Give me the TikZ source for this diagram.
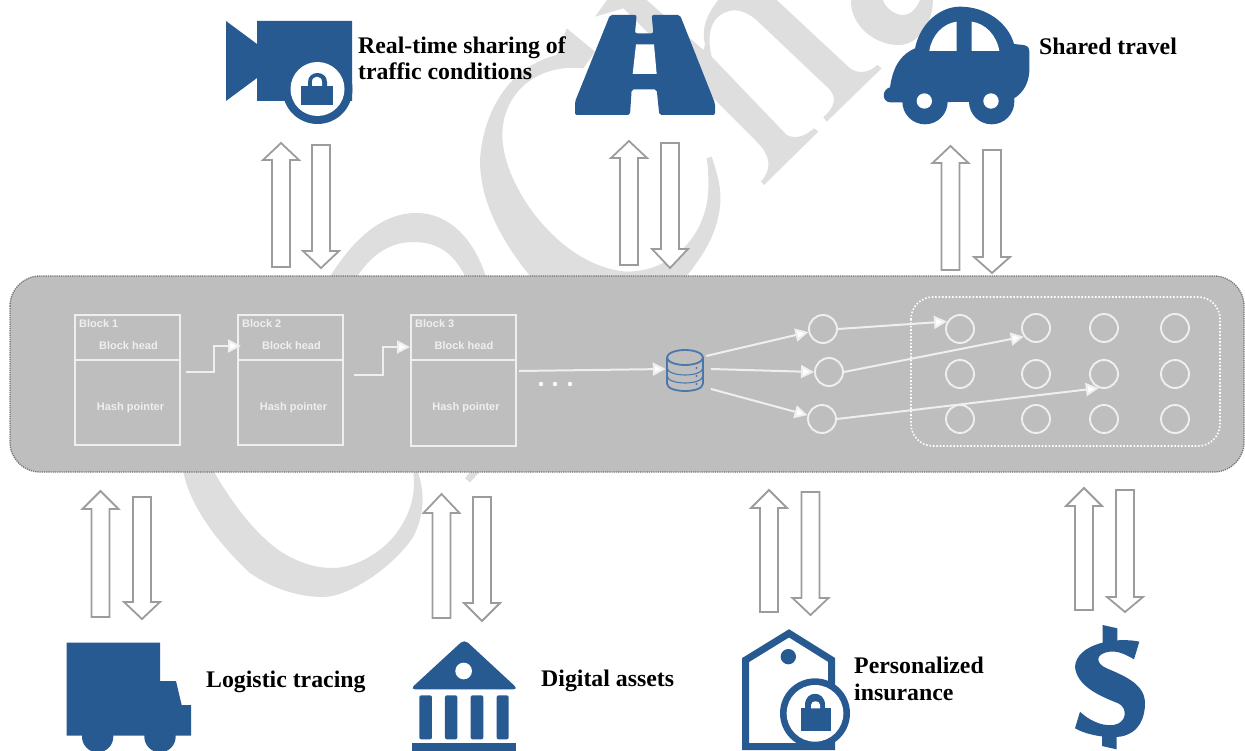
\documentclass[tikz,border=0pt]{standalone}
\usepackage{fontspec}
\setmainfont{Liberation Serif}
\newfontfamily\smallsans{Liberation Sans}
\usetikzlibrary{arrows.meta,calc}
\definecolor{iconblue}{HTML}{285A92}
\definecolor{wmark}{HTML}{DEDEDE}
\definecolor{bandgray}{HTML}{BEBEBE}
\definecolor{arrgray}{HTML}{9C9C9C}
\definecolor{dbblue}{HTML}{4A78AD}
\definecolor{softwhite}{HTML}{EFEFEF}
\newcommand{\hollowup}[4]{% centre x, tip y, head y, bottom y
  \draw[hollow] (#1-9,#4) -- (#1-9,#3) -- (#1-18,#3) -- (#1,#2) -- (#1+18,#3) -- (#1+9,#3) -- (#1+9,#4) -- cycle;}
\newcommand{\hollowdown}[4]{% centre x, top y, head y, tip y
  \draw[hollow] (#1-9,#2) -- (#1-9,#3) -- (#1-18,#3) -- (#1,#4) -- (#1+18,#3) -- (#1+9,#3) -- (#1+9,#2) -- cycle;}
\tikzset{
  hollow/.style={draw=arrgray,fill=white,line width=1.8pt,miter limit=4},
  icon/.style={fill=iconblue,draw=none},
  captionlab/.style={font=\fontsize{23.8}{26.5}\selectfont\bfseries,anchor=west,align=left,inner sep=0pt,text=black},
  blockbox/.style={draw=softwhite,line width=2pt,minimum width=105pt,minimum height=130pt,inner sep=0pt},
  smalltxt/.style={font=\smallsans\fontsize{11}{12}\selectfont\bfseries,text=softwhite,inner sep=0pt},
  peer/.style={circle,draw=softwhite,line width=1.9pt,minimum size=28pt,inner sep=0pt},
  flow/.style={draw=softwhite,line width=2pt,-{Triangle[length=13pt,width=13pt,fill=white]}},
}
\begin{document}
\begin{tikzpicture}[x=1pt,y=-1pt]
\clip (0,0) rectangle (1245,751);
\fill[white] (0,0) rectangle (1245,751);
% watermark
\fill[wmark] (328,280) .. controls (355,235) and (385,213) .. (416,213) .. controls (450,213) and (475,240) .. (487,280) -- (467,280) .. controls (455,255) and (440,242) .. (413,242) .. controls (390,242) and (370,255) .. (355,280) -- cycle;
\fill[wmark] (183,470) .. controls (190,510) and (225,550) .. (250,573) .. controls (275,590) and (300,597) .. (323,597) .. controls (350,597) and (395,565) .. (413,537) .. controls (425,515) and (425,490) .. (417,470) -- (413,470) .. controls (416,490) and (412,510) .. (400,528) .. controls (385,552) and (355,568) .. (333,568) .. controls (315,568) and (300,563) .. (283,553) .. controls (255,535) and (230,500) .. (213,470) -- cycle;
\begin{scope}[shift={(460,0)},scale=1/3]
\fill[wmark] (320,85) -- (405,155) -- (370,205) .. controls (230,190) and (125,280) .. (127,410) .. controls (130,560) and (300,800) .. (500,815) .. controls (640,815) and (745,700) .. (745,560) .. controls (745,530) and (745,500) .. (740,475) -- (755,470) .. controls (775,530) and (785,570) .. (780,620) .. controls (770,710) and (720,780) .. (670,840) -- (220,840) .. controls (120,720) and (60,600) .. (60,480) .. controls (70,330) and (150,200) .. (290,165) -- cycle;
\end{scope}
\begin{scope}[shift={(150,460)},scale=1/3]
\fill[wmark] (945,55) -- (960,67) -- (990,35) -- (960,35) -- cycle;
\end{scope}
\begin{scope}[shift={(660,0)},scale=1/3]
\fill[wmark] (-195,50) -- (-159,0) -- (-40,0) -- (130,150) -- (135,135) .. controls (125,90) and (135,50) .. (175,0) -- (350,0) -- (570,205) .. controls (600,225) and (630,215) .. (652,195) -- (665,205) -- (500,365) -- (490,352) .. controls (525,320) and (535,290) .. (500,260) -- (300,70) .. controls (250,20) and (200,20) .. (165,60) .. controls (145,90) and (145,130) .. (155,170) -- (380,405) .. controls (410,420) and (440,405) .. (462,385) -- (475,395) -- (312,555) -- (302,545) .. controls (335,510) and (335,470) .. (290,425) -- (0,135) -- (-110,25) -- cycle;
\end{scope}
\fill[wmark] (851,0) .. controls (850,25) and (875,46) .. (900,45) .. controls (920,44) and (933,20) .. (933,0) -- (920,0) .. controls (915,12) and (908,15) .. (903,15) .. controls (895,15) and (885,8) .. (883,0) -- cycle;
% band
\draw[draw=black!55,fill=bandgray,line width=1.3pt,dash pattern=on 1.2pt off 1pt,rounded corners=30pt] (10,276) rectangle (1244,472);
\draw[draw=white,line width=1.6pt,dash pattern=on 1.6pt off 1.8pt,rounded corners=22pt] (911,297) rectangle (1220,446);
% blocks
\node[blockbox] (b1) at (127,380) {};
\node[blockbox] (b2) at (290,380) {};
\node[blockbox] (b3) at (463.5,380.5) {};
\draw[softwhite,line width=2pt] (b1.west |- 0,360) -- (b1.east |- 0,360);
\draw[softwhite,line width=2pt] (b2.west |- 0,360) -- (b2.east |- 0,360);
\draw[softwhite,line width=2pt] (b3.west |- 0,360) -- (b3.east |- 0,360);
\node[smalltxt,anchor=west] (t1a) at (79,324) {Block 1};
\node[smalltxt,anchor=west] (t2a) at (242,324) {Block 2};
\node[smalltxt,anchor=west] (t3a) at (415,324) {Block 3};
\node[smalltxt] (t1b) at (128.5,346) {Block head};
\node[smalltxt] (t2b) at (291.5,346) {Block head};
\node[smalltxt] (t3b) at (464,346) {Block head};
\node[smalltxt] (t1c) at (130.5,408) {Hash pointer};
\node[smalltxt] (t2c) at (293.5,408) {Hash pointer};
\node[smalltxt] (t3c) at (466,408) {Hash pointer};
\coordinate (s1) at (186,372);
\coordinate (e1) at (241,346);
\coordinate (s2) at (354,375);
\coordinate (e2) at (410,347);
\coordinate (s3) at (519,371);
\draw[flow] (s1) -- (214,372) |- (e1);
\draw[flow] (s2) -- (383,375) |- (e2);
\fill[white] (541,384) circle (2.2) (555,384) circle (2.2) (570,384) circle (2.2);
% database
\node[minimum width=40pt,minimum height=42pt,inner sep=0pt] (db) at (686,369) {};
\draw[dbblue,line width=1.8pt] (685,357.5) ellipse (18 and 7.5);
\draw[dbblue,line width=1.8pt] (667,357.5) -- (667,383.5) .. controls (667,393.5) and (703,393.5) .. (703,383.5) -- (703,357.5);
\draw[dbblue,line width=1.1pt] (667,367.5) .. controls (667,377.5) and (703,377.5) .. (703,367.5);
\draw[dbblue,line width=1.1pt] (667,375.5) .. controls (667,385.5) and (703,385.5) .. (703,375.5);
\fill[dbblue] (696.5,368) circle (1.2) (696.5,376) circle (1.2) (696.5,384) circle (1.2);
\draw[flow] (s3) -- (db.west);
% peers
\node[peer] (c1) at (823,329) {};
\node[peer] (c2) at (829,372) {};
\node[peer] (c3) at (822,419) {};
\node[peer] (g11) at (960,329) {};
\node[peer] (g12) at (1036,328) {};
\node[peer] (g13) at (1104,328) {};
\node[peer] (g14) at (1175,328) {};
\node[peer] (g21) at (960,374) {};
\node[peer] (g22) at (1036,374) {};
\node[peer] (g23) at (1104,374) {};
\node[peer] (g24) at (1175,374) {};
\node[peer] (g31) at (960,419) {};
\node[peer] (g32) at (1036,419) {};
\node[peer] (g33) at (1104,419) {};
\node[peer] (g34) at (1175,419) {};
\coordinate (dA) at (706,356);
\coordinate (dB) at (711,369);
\coordinate (dC) at (711,389);
\draw[flow] (dA) -- (c1.192);
\draw[flow] (dB) -- (c2.west);
\draw[flow] (dC) -- (c3.165);
\draw[flow] (c1.east) -- (g11.150);
\draw[flow] (c2.east) -- (g12.215);
\draw[flow] (c3.east) -- (g23.250);
% hollow arrows
\hollowup{281}{143}{160}{267}\hollowdown{321}{145}{251}{268}
\hollowup{629}{141}{158}{265}\hollowdown{670}{143}{249}{268}
\hollowup{950.5}{146}{163}{270}\hollowdown{992}{150}{257}{273}
\hollowup{100.5}{491}{509}{617}\hollowdown{142}{497}{602}{619}
\hollowup{441.5}{494}{513}{618}\hollowdown{482}{497}{603}{621}
\hollowup{769}{490}{508}{612}\hollowdown{810.5}{492}{598}{615}
\hollowup{1084}{488}{506}{610}\hollowdown{1125}{490}{597}{612}
% camera
\fill[icon] (226,21) -- (257,44) -- (257,21) -- (352,21) -- (352,101) -- (257,101) -- (257,78) -- (226,101) -- cycle;
\fill[icon] (317.5,89) circle (35);
\fill[white] (317.5,89) circle (27);
\fill[icon] (301,86) rectangle (333,105);
\fill[icon] (308,87) -- (308,82) .. controls (308,70) and (327,70) .. (327,82) -- (327,87) -- cycle;
\fill[white] (312,86) -- (312,82) .. controls (312,75) and (322,75) .. (322,82) -- (322,86) -- cycle;
% road
\begin{scope}[shift={(460,0)},scale=1/3]
\fill[icon,rounded corners=2pt] (450,45) -- (530,45) -- (525,100) -- (580,100) -- (575,45) -- (660,45) -- (765,310) -- (765,345) -- (598,345) -- (590,268) -- (515,268) -- (510,345) -- (345,345) -- (345,305) -- cycle;
\fill[white] (528,133) -- (582,133) -- (590,222) -- (518,222) -- cycle;
\end{scope}
% car
\begin{scope}[shift={(870,0)},scale=1/3]
\fill[icon] (60,262) .. controls (70,190) and (100,160) .. (135,145) .. controls (150,70) and (210,20) .. (270,20) .. controls (350,20) and (415,70) .. (432,132) -- (460,135) .. controls (472,137) and (478,142) .. (478,155) -- (478,215) .. controls (475,260) and (450,285) .. (432,295) -- (432,305) -- (60,307) .. controls (35,305) and (35,268) .. (60,262) -- cycle;
\fill[icon] (165,305) circle (68);
\fill[icon] (365,305) circle (68);
\fill[white] (178,153) .. controls (185,105) and (220,70) .. (260,65) -- (260,153) -- cycle;
\fill[white] (305,65) .. controls (345,70) and (380,105) .. (388,153) -- (305,153) -- cycle;
\fill[white] (163,303) circle (23);
\fill[white] (363,303) circle (23);
\end{scope}
% truck and bank
\begin{scope}[shift={(50,620)},scale=1/3]
\fill[icon] (50,68) -- (330,68) -- (330,183) -- (378,183) -- (395,255) -- (423,255) -- (423,347) -- (50,347) -- cycle;
\fill[icon] (143,350) circle (47);
\fill[icon] (330,350) circle (47);
\fill[icon,rounded corners=5pt] (1243,58) -- (1405,208) -- (1080,208) -- cycle;
\fill[white] (1241,153) circle (25);
\fill[icon,rounded corners=2pt] (1108,226) rectangle (1146,358);
\fill[icon,rounded corners=2pt] (1185,226) rectangle (1222,358);
\fill[icon,rounded corners=2pt] (1262,226) rectangle (1300,358);
\fill[icon,rounded corners=2pt] (1340,226) rectangle (1376,358);
\fill[icon] (1085,370) rectangle (1398,400);
\end{scope}
% tag and dollar
\begin{scope}[shift={(730,610)},scale=1/3]
\draw[iconblue,line width=7pt,miter limit=4] (177,70) -- (305,150) -- (305,410) -- (47,410) -- (47,150) -- cycle;
\fill[icon] (175,140) circle (23);
\fill[icon] (255,310) circle (105);
\fill[white] (255,310) circle (85);
\fill[icon] (212,295) rectangle (303,362);
\fill[icon] (225,298) -- (225,285) .. controls (225,240) and (285,240) .. (285,285) -- (285,298) -- cycle;
\fill[white] (243,295) -- (243,285) .. controls (243,270) and (270,270) .. (270,285) -- (270,295) -- cycle;
\fill[icon] (1228,95) .. controls (1160,80) and (1040,100) .. (1035,170) .. controls (1040,225) and (1100,255) .. (1165,280) .. controls (1195,295) and (1190,340) .. (1150,345) .. controls (1110,350) and (1070,325) .. (1050,305) -- (1035,355) .. controls (1070,375) and (1130,385) .. (1170,380) .. controls (1230,370) and (1245,320) .. (1245,280) .. controls (1245,225) and (1190,200) .. (1130,175) .. controls (1095,160) and (1095,130) .. (1140,125) .. controls (1165,122) and (1190,135) .. (1212,148) -- cycle;
\fill[icon] (1118,45) -- (1162,55) -- (1162,110) -- (1118,110) -- cycle;
\fill[icon] (1116,360) -- (1160,360) -- (1160,418) -- (1116,408) -- cycle;
\end{scope}
% labels
\node[captionlab] (lab1) at (358,58) {Real-time sharing of\\traffic conditions};
\node[captionlab] (lab2) at (1039,46) {Shared travel};
\node[captionlab] (lab3) at (206,682) {Logistic tracing};
\node[captionlab] (lab4) at (541,681) {Digital assets};
\node[captionlab] (lab5) at (854,679) {Personalized\\insurance};
\end{tikzpicture}
\end{document}
